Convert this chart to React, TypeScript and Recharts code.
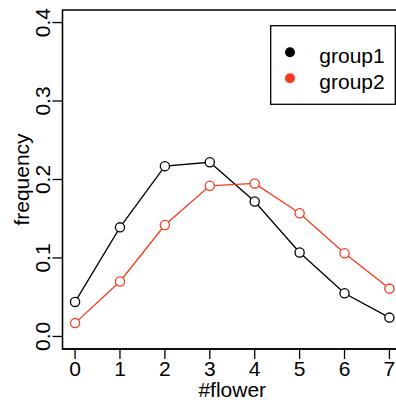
import React from 'react';
import { LineChart, Line, XAxis, YAxis, ReferenceArea, Legend } from 'recharts';

// Number of flowers per plant (x categories)
const flowers = [0, 1, 2, 3, 4, 5, 6, 7];
// Observed frequency for each group
const group1 = [0.044, 0.139, 0.217, 0.222, 0.172, 0.107, 0.055, 0.024];
const group2 = [0.017, 0.070, 0.142, 0.192, 0.195, 0.157, 0.106, 0.061];
const yTicks = [0, 0.1, 0.2, 0.3, 0.4];
const seriesNames = ['group1', 'group2'];
const seriesColors = ['#000000', '#F8391E'];

const data = flowers.map((f, i) => ({ flower: f, group1: group1[i], group2: group2[i] }));

const FONT = '"Liberation Sans", Arial, Helvetica, sans-serif';
const FS = 21;
const LW = 1.3;
const xDomain: [number, number] = [-0.28, 7.28];
const yDomain: [number, number] = [-0.016, 0.416];

const XTick = (props: any) => {
  const { x, y, payload } = props;
  return (
    <text x={x} y={y} dy={16.7} textAnchor="middle" fontSize={FS} fontFamily={FONT} fill="#000">
      {payload.value}
    </text>
  );
};

const YTick = (props: any) => {
  const { x, y, payload } = props;
  return (
    <text
      transform={`translate(${x - 2.3}, ${y}) rotate(-90)`}
      textAnchor="middle"
      fontSize={FS}
      fontFamily={FONT}
      fill="#000"
    >
      {Number(payload.value).toFixed(1)}
    </text>
  );
};

const XLabel = (props: any) => {
  const vb = props.viewBox || {};
  return (
    <text x={vb.x + vb.width / 2} y={vb.y + 48} textAnchor="middle" fontSize={FS} fontFamily={FONT} fill="#000">
      #flower
    </text>
  );
};

const YLabel = (props: any) => {
  const vb = props.viewBox || {};
  return (
    <text
      transform={`translate(29.3, ${vb.y + vb.height / 2}) rotate(-90)`}
      textAnchor="middle"
      fontSize={FS}
      fontFamily={FONT}
      fill="#000"
    >
      frequency
    </text>
  );
};

const LegendBox = () => (
  <svg width={127} height={81} style={{ display: 'block' }}>
    <rect x={0.7} y={0.7} width={124.6} height={78.6} fill="#fff" stroke="#000" strokeWidth={LW} />
    {seriesNames.map((name, i) => (
      <g key={name}>
        <circle cx={20} cy={27.3 + i * 26} r={5} fill={seriesColors[i]} />
        <text x={49.3} y={37.5 + i * 26.5} fontSize={FS} fontFamily={FONT} fill="#000">
          {name}
        </text>
      </g>
    ))}
  </svg>
);

export default function App() {
  return (
    <div style={{ position: 'absolute', left: 0, top: 0, width: 396, height: 400, overflow: 'hidden', background: '#fff' }}>
      <LineChart width={410} height={400} data={data} margin={{ top: 10, right: 8, bottom: 0, left: 0 }}>
        <ReferenceArea
          x1={xDomain[0]}
          x2={xDomain[1]}
          y1={yDomain[0]}
          y2={yDomain[1]}
          fill="none"
          fillOpacity={0}
          stroke="#000"
          strokeWidth={LW}
          ifOverflow="visible"
        />
        <XAxis
          dataKey="flower"
          type="number"
          domain={xDomain}
          ticks={flowers}
          interval={0}
          allowDataOverflow
          height={51}
          tickSize={10}
          tickMargin={0}
          axisLine={{ stroke: '#000', strokeWidth: LW }}
          tickLine={{ stroke: '#000', strokeWidth: LW }}
          tick={<XTick />}
          label={XLabel}
        />
        <YAxis
          type="number"
          domain={yDomain}
          ticks={yTicks}
          interval={0}
          allowDataOverflow
          width={62.5}
          tickSize={10}
          tickMargin={0}
          axisLine={{ stroke: '#000', strokeWidth: LW }}
          tickLine={{ stroke: '#000', strokeWidth: LW }}
          tick={<YTick />}
          label={YLabel}
        />
        {seriesNames.map((name, i) => (
          <Line
            key={name}
            dataKey={name}
            type="linear"
            stroke={seriesColors[i]}
            strokeWidth={LW}
            dot={{ r: 4.6, fill: '#fff', stroke: seriesColors[i], strokeWidth: LW }}
            activeDot={false}
            isAnimationActive={false}
          />
        ))}
        <Legend
          layout="horizontal"
          verticalAlign="middle"
          align="center"
          wrapperStyle={{ left: 270, top: 25, width: 127, height: 81 }}
          content={<LegendBox />}
        />
      </LineChart>
    </div>
  );
}
